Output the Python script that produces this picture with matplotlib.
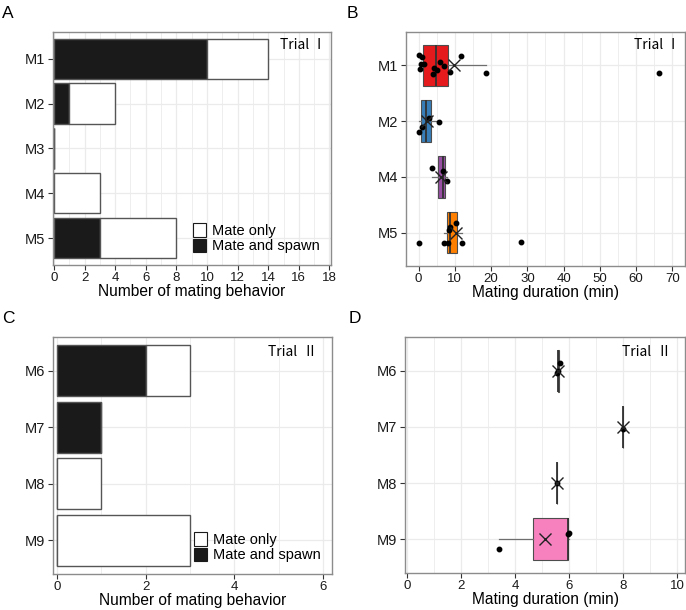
import matplotlib
matplotlib.use('Agg')
import matplotlib.pyplot as plt
from matplotlib.patches import Patch
from matplotlib.ticker import MultipleLocator
import numpy as np

plt.rcParams['font.family'] = ['Liberation Sans', 'DejaVu Sans']

# ---- panel A / C : counts of mating behaviour ----
males_a = ['M1', 'M2', 'M3', 'M4', 'M5']
spawn_a = [10, 1, 0, 0, 3]
total_a = [14, 4, 0, 3, 8]

males_c = ['M6', 'M7', 'M8', 'M9']
spawn_c = [2, 1, 0, 0]
total_c = [3, 1, 1, 3]

# ---- panel B / D : mating duration (min), with vertical jitter ----
males_b = ['M1', 'M2', 'M4', 'M5']
colors_b = ['#E41A1C', '#377EB8', '#984EA3', '#FF7F00']
dur_b = [
    [0.0, 1.0, 0.55, 1.4, 0.45, 3.95, 4.3, 5.2, 5.8, 7.0, 8.6, 11.7, 18.5, 66.3],
    [0.0, 1.0, 2.85, 5.5],
    [3.67, 6.8, 7.7],
    [0.1, 6.9, 8.2, 8.55, 8.5, 10.3, 11.85, 28.2],
]
jit_b = [
    [-0.18, -0.15, -0.035, -0.035, 0.065, 0.16, 0.05, 0.08, -0.065, 0.01, 0.12, -0.165, 0.14, 0.135],
    [0.19, 0.10, -0.05, 0.01],
    [-0.165, -0.11, 0.07],
    [0.19, 0.19, 0.18, -0.10, -0.04, -0.17, 0.19, 0.17],
]

males_d = ['M6', 'M7', 'M8', 'M9']
colors_d = ['#FFFF33', '#A65628', '#999999', '#F781BF']
dur_d = [
    [5.57, 5.6, 5.66],
    [8.0],
    [5.55],
    [3.4, 5.95, 6.0],
]
jit_d = [
    [0.035, 0.0, -0.13],
    [0.04],
    [0.0],
    [0.175, -0.1, -0.11],
]

GRID = '#ebebeb'
BORDER = '#8c8c8c'
TRIAL_FONT = ['Noto Sans CJK JP', 'DejaVu Sans']


def style_axis(ax, xlim, major, minor, ncat):
    ax.set_xlim(*xlim)
    ax.set_ylim(ncat - 1 + 0.6, -0.6)
    ax.xaxis.set_major_locator(MultipleLocator(major))
    ax.xaxis.set_minor_locator(MultipleLocator(minor))
    ax.grid(True, which='major', color=GRID, lw=0.9, zorder=0)
    ax.grid(True, which='minor', axis='x', color=GRID, lw=0.6, zorder=0)
    ax.set_axisbelow(True)
    for s in ax.spines.values():
        s.set_color(BORDER)
        s.set_linewidth(1.0)
    ax.tick_params(which='major', length=3.5, width=0.8, color='#333333')
    ax.tick_params(which='minor', length=0)
    ax.tick_params(axis='x', labelsize=9.5, labelcolor='#1a1a1a', pad=1.5)
    ax.tick_params(axis='y', labelsize=10.5, labelcolor='#1a1a1a', pad=2)


def count_panel(ax, males, spawn, total, xlim, major, trial, tpos):
    y = np.arange(len(males))
    only = np.array(total) - np.array(spawn)
    ax.barh(y, spawn, height=0.9, color='#1a1a1a', edgecolor='#555555', lw=1.0, zorder=2)
    ax.barh(y, only, left=spawn, height=0.9, color='white', edgecolor='#555555', lw=1.0, zorder=2)
    ax.set_yticks(y)
    ax.set_yticklabels(males)
    style_axis(ax, xlim, major, major / 2, len(males))
    ax.set_xlabel('Number of mating behavior', fontsize=11.2, labelpad=0)
    handles = [Patch(facecolor='white', edgecolor='#1a1a1a', lw=0.8, label='Mate only'),
               Patch(facecolor='#1a1a1a', edgecolor='#1a1a1a', lw=0.8, label='Mate and spawn')]
    ax.legend(handles=handles, loc='lower right', frameon=False, fontsize=10.5,
              handlelength=0.85, handleheight=1.05, labelspacing=0.05, handletextpad=0.4,
              borderaxespad=0.5, borderpad=0.3)
    ax.text(tpos[0], tpos[1], trial, transform=ax.transAxes, ha='right', va='center',
            fontsize=10, family=TRIAL_FONT)


def duration_panel(ax, males, data, jit, colors, xlim, major, trial, tpos):
    y = np.arange(len(males))
    bp = ax.boxplot(data, positions=y, orientation='horizontal', widths=0.75,
                    patch_artist=True, showmeans=True, showfliers=False, showcaps=False,
                    whis=1.5, manage_ticks=False,
                    boxprops=dict(edgecolor='#4d4d4d', lw=0.8),
                    whiskerprops=dict(color='#6e6e6e', lw=0.9),
                    medianprops=dict(color='#333333', lw=1.3),
                    meanprops=dict(marker='x', markersize=9, markeredgecolor='#222222',
                                   markeredgewidth=1.0, markerfacecolor='none'),
                    zorder=2)
    for patch, c in zip(bp['boxes'], colors):
        patch.set_facecolor(c)
    for i in range(len(males)):
        ax.plot(data[i], y[i] + np.array(jit[i]), 'o', color='black', ms=3.2, zorder=3)
    for m in bp['means']:
        m.set_zorder(4)
    ax.set_yticks(y)
    ax.set_yticklabels(males)
    style_axis(ax, xlim, major, major / 2, len(males))
    ax.set_xlabel('Mating duration (min)', fontsize=11.2, labelpad=0)
    ax.text(tpos[0], tpos[1], trial, transform=ax.transAxes, ha='right', va='center',
            fontsize=10, family=TRIAL_FONT)


fig = plt.figure(figsize=(6.86, 6.10), dpi=100)
axA = fig.add_axes([0.0773, 0.5656, 0.4052, 0.382])
axB = fig.add_axes([0.5918, 0.5639, 0.4067, 0.3836])
axC = fig.add_axes([0.0773, 0.0590, 0.4067, 0.3885])
axD = fig.add_axes([0.5904, 0.0607, 0.4082, 0.3869])

count_panel(axA, males_a, spawn_a, total_a, (-0.06, 18.1), 2, 'Trial \u2160', (0.982, 0.945))
duration_panel(axB, males_b, dur_b, jit_b, colors_b, (-3.5, 73.5), 10, 'Trial \u2160', (0.982, 0.945))
count_panel(axC, males_c, spawn_c, total_c, (-0.09, 6.2), 2, 'Trial  \u2161', (0.948, 0.937))
duration_panel(axD, males_d, dur_d, jit_d, colors_d, (-0.07, 10.3), 2, 'Trial  \u2161', (0.952, 0.937))

for lab, x, y in [('A', 0.003, 0.99), ('B', 0.505, 0.99), ('C', 0.003, 0.49), ('D', 0.508, 0.49)]:
    fig.text(x, y, lab, fontsize=12.5, ha='left', va='top')

fig.savefig('out.png', dpi=100)
